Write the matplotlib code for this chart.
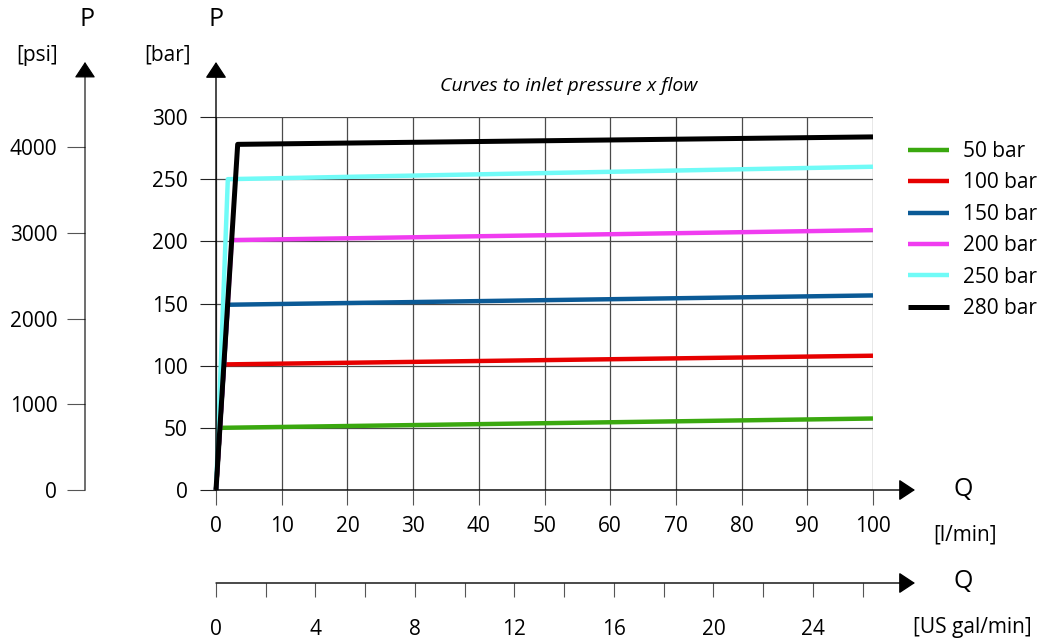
import numpy as np
import matplotlib
matplotlib.use("Agg")
import matplotlib.pyplot as plt

plt.rcParams['font.family'] = ['Open Sans', 'DejaVu Sans']

# data (flow in l/min, pressure in bar)
labels = ['50 bar', '100 bar', '150 bar', '200 bar', '250 bar', '280 bar']
colors = ['#3aa80f', '#e60000', '#0b5a96', '#f03cf0', '#70fbf7', '#000000']
flow = [
    [0, 0.6, 100],
    [0, 1.2, 100],
    [0, 1.8, 100],
    [0, 2.4, 100],
    [0, 1.8, 100],
    [0, 3.3, 100],
]
pressure = [
    [0, 50, 57.5],
    [0, 101, 108],
    [0, 149, 156.5],
    [0, 201, 209],
    [0, 250, 260],
    [0, 278, 284],
]
x_ticks = list(range(0, 101, 10))
y_ticks = list(range(0, 301, 50))
psi_ticks = [0, 1000, 2000, 3000, 4000]
gal_major = [0, 4, 8, 12, 16, 20, 24]
gal_minor = list(range(0, 27, 2))

PSI_PER_BAR = 14.5038
LPM_PER_GAL = 3.78541
FS = 15

W, H = 1045, 642
fig = plt.figure(figsize=(W / 100, H / 100), dpi=100)

def fx(px):
    return px / W

def fy(py):
    return 1 - py / H

L, R, T, B = 216, 873, 117, 490
ax = fig.add_axes([fx(L), fy(B), (R - L) / W, (B - T) / H])
ax.set_xlim(0, 100)
ax.set_ylim(0, 300)
for s in ax.spines.values():
    s.set_visible(False)
ax.set_xticks(x_ticks)
ax.set_yticks(y_ticks)
ax.grid(True, color='#4a4a4a', lw=0.9)
ax.tick_params(axis='x', direction='out', length=11, width=0.8, color='#555555',
               pad=8, labelsize=FS)
ax.tick_params(axis='y', direction='out', length=11.5, width=0.8, color='#222222',
               pad=9, labelsize=FS)

for xs, ps, c, lab in zip(flow, pressure, colors, labels):
    lw = 3.6 if c == '#000000' else 3.2
    ax.plot(xs, ps, color=c, lw=lw, label=lab, solid_capstyle='butt',
            solid_joinstyle='round', clip_on=False, zorder=3)

arrow = dict(arrowstyle='-|>,head_length=0.5,head_width=0.33', color='black',
             lw=1.0, mutation_scale=20, shrinkA=0, shrinkB=0)
ax.annotate('', xy=(0, (B - 62) / (B - T)), xytext=(0, 0), xycoords='axes fraction',
            arrowprops=arrow, annotation_clip=False)
ax.annotate('', xy=((915 - L) / (R - L), 0), xytext=(0, 0), xycoords='axes fraction',
            arrowprops=arrow, annotation_clip=False)

ax.legend(loc='upper left', bbox_to_anchor=(fx(908), fy(141)), bbox_transform=fig.transFigure,
          frameon=False, handlelength=1.95, handletextpad=0.7, labelspacing=0.5,
          borderpad=0, borderaxespad=0, fontsize=FS)

# psi axis
ax_psi = fig.add_axes([fx(85), fy(B), 0.0005, (B - T) / H])
ax_psi.set_ylim(0, 300 * PSI_PER_BAR)
ax_psi.patch.set_visible(False)
for s in ax_psi.spines.values():
    s.set_visible(False)
ax_psi.set_xticks([])
ax_psi.set_yticks(psi_ticks)
ax_psi.tick_params(axis='y', direction='out', length=13, width=0.8, color='#555555',
                   pad=7, labelsize=FS)
arrow_g = dict(arrow, color='black', lw=0.8)
ax_psi.annotate('', xy=(0, (B - 62) / (B - T)), xytext=(0, 0), xycoords='axes fraction',
                arrowprops=arrow_g, annotation_clip=False)

# US gal/min axis
ax_gal = fig.add_axes([fx(L), fy(583), (R - L) / W, 0.0005])
ax_gal.set_xlim(0, 100 / LPM_PER_GAL)
ax_gal.patch.set_visible(False)
for s in ax_gal.spines.values():
    s.set_visible(False)
ax_gal.set_yticks([])
ax_gal.set_xticks(gal_major)
ax_gal.set_xticks(gal_minor, minor=True)
ax_gal.tick_params(axis='x', which='both', direction='out', length=10, width=0.8,
                   color='#555555', pad=16, labelsize=FS)
ax_gal.annotate('', xy=((915 - L) / (R - L), 0), xytext=(0, 0), xycoords='axes fraction',
                arrowprops=arrow, annotation_clip=False)

# axis titles
fig.text(fx(87), fy(20), 'P', fontsize=18, ha='center', va='center')
fig.text(fx(37), fy(55), '[psi]', fontsize=FS, ha='center', va='center')
fig.text(fx(216), fy(20), 'P', fontsize=18, ha='center', va='center')
fig.text(fx(168), fy(55), '[bar]', fontsize=FS, ha='center', va='center')
fig.text(fx(963), fy(490), 'Q', fontsize=18, ha='center', va='center')
fig.text(fx(965), fy(535), '[l/min]', fontsize=FS, ha='center', va='center')
fig.text(fx(963), fy(581), 'Q', fontsize=18, ha='center', va='center')
fig.text(fx(972), fy(628), '[US gal/min]', fontsize=FS, ha='center', va='center')
fig.text(fx(569), fy(86), 'Curves to inlet pressure x flow', fontsize=14,
         style='italic', ha='center', va='center')

fig.savefig('out.png', dpi=100)
